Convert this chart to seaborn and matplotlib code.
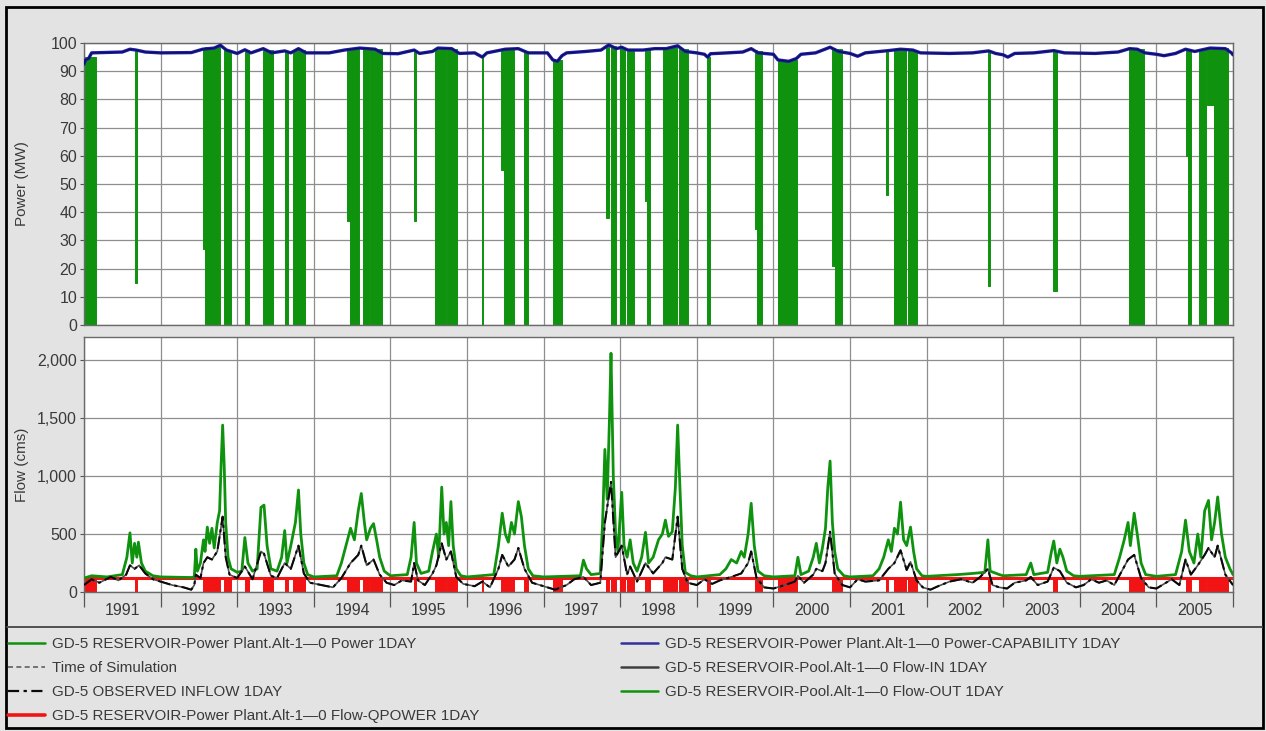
"""
GD-5 reservoir: power generation and flow, 1991-2005 (daily results, ResSim style plot).
"""

import matplotlib
matplotlib.use("Agg")
import matplotlib.pyplot as plt
from matplotlib.lines import Line2D
from matplotlib.patches import Rectangle
from matplotlib.ticker import StrMethodFormatter
import seaborn as sns

# ---------------------------------------------------------------- data
years = list(range(1991, 2006))
year_labels = [str(y) for y in years]
year_starts = list(range(1991, 2007))
year_mids = [y + 0.5 for y in years]

# power capability (MW)
cap_year = [1991.00, 1991.02, 1991.06, 1991.10, 1991.50, 1991.60, 1991.68, 1991.80, 1992.00, 1992.40,
            1992.55, 1992.70, 1992.78, 1992.86, 1993.00, 1993.10, 1993.18, 1993.34, 1993.45, 1993.62,
            1993.70, 1993.80, 1993.90, 1994.20, 1994.40, 1994.60, 1994.80, 1994.90, 1995.10, 1995.31,
            1995.38, 1995.55, 1995.62, 1995.80, 1995.90, 1996.10, 1996.20, 1996.26, 1996.50, 1996.67,
            1996.80, 1997.05, 1997.12, 1997.18, 1997.24, 1997.30, 1997.55, 1997.75, 1997.85, 1997.95,
            1998.02, 1998.10, 1998.30, 1998.45, 1998.60, 1998.75, 1998.85, 1999.00, 1999.10, 1999.14,
            1999.18, 1999.40, 1999.60, 1999.71, 1999.80, 2000.00, 2000.06, 2000.20, 2000.30, 2000.36,
            2000.55, 2000.74, 2000.85, 2001.00, 2001.10, 2001.20, 2001.50, 2001.66, 2001.82, 2001.92,
            2002.30, 2002.60, 2002.81, 2002.90, 2003.00, 2003.06, 2003.15, 2003.40, 2003.66, 2003.80,
            2004.20, 2004.50, 2004.65, 2004.75, 2004.85, 2005.00, 2005.10, 2005.25, 2005.38, 2005.50,
            2005.70, 2005.90, 2005.98, 2006.00]
cap_mw = [92.5, 94.0, 94.5, 96.5, 96.8, 97.8, 97.5, 96.8, 96.5, 96.6,
          97.8, 98.2, 99.2, 97.5, 96.3, 97.6, 96.5, 98.0, 96.5, 97.2,
          96.5, 98.0, 96.5, 96.5, 97.5, 98.2, 97.8, 96.3, 96.2, 97.5,
          96.3, 97.0, 98.2, 98.0, 96.3, 96.5, 95.0, 96.5, 97.8, 98.0,
          96.5, 96.5, 94.0, 93.5, 95.5, 96.5, 97.0, 97.5, 99.3, 98.0,
          98.5, 97.5, 97.5, 98.0, 98.0, 99.0, 97.0, 96.5, 96.0, 95.0,
          96.2, 96.5, 96.8, 98.0, 96.5, 96.0, 94.0, 93.5, 94.5, 96.0,
          96.5, 98.5, 97.0, 96.3, 95.3, 96.5, 97.3, 97.8, 97.5, 96.5,
          96.3, 96.5, 97.2, 96.3, 95.8, 95.0, 96.3, 96.5, 97.3, 96.5,
          96.3, 96.8, 98.0, 97.8, 96.5, 96.0, 95.5, 96.3, 97.8, 97.0,
          98.2, 98.0, 96.5, 95.8]

# periods where the units cycle down (generation swings between top and min)
drop_start = [1991.01, 1991.672, 1992.55, 1992.58, 1992.83, 1993.10, 1993.34, 1993.62, 1993.73, 1994.43,
              1994.47, 1994.64, 1994.73, 1995.31, 1995.58, 1995.74, 1996.19, 1996.44, 1996.48, 1996.74,
              1997.12, 1997.81, 1997.88, 1998.00, 1998.09, 1998.32, 1998.35, 1998.56, 1998.77, 1999.13,
              1999.76, 1999.79, 2000.06, 2000.77, 2000.80, 2001.47, 2001.57, 2001.76, 2002.80, 2003.65,
              2004.64, 2005.39, 2005.41, 2005.56, 2005.66, 2005.75]
drop_end = [1991.16, 1991.688, 1992.58, 1992.78, 1992.92, 1993.15, 1993.47, 1993.66, 1993.89, 1994.47,
            1994.59, 1994.72, 1994.89, 1995.33, 1995.73, 1995.87, 1996.21, 1996.48, 1996.61, 1996.80,
            1997.24, 1997.85, 1997.94, 1998.06, 1998.18, 1998.34, 1998.39, 1998.74, 1998.89, 1999.17,
            1999.79, 1999.85, 2000.31, 2000.80, 2000.90, 2001.50, 2001.73, 2001.87, 2002.83, 2003.70,
            2004.84, 2005.41, 2005.45, 2005.65, 2005.75, 2005.93]
drop_min_mw = [0, 15, 27, 0, 0, 0, 0, 0, 0, 37,
               0, 0, 0, 37, 0, 0, 0, 55, 0, 0,
               0, 38, 0, 0, 0, 44, 0, 0, 0, 0,
               34, 0, 0, 21, 0, 46, 0, 0, 14, 12,
               0, 60, 0, 0, 78, 0]
drop_top_mw = [95.0, 97.5, 97.8, 98.5, 97.5, 97.5, 97.5, 97.0, 97.5, 97.7,
               98.0, 98.2, 97.8, 97.5, 98.0, 98.0, 95.5, 97.5, 97.8, 97.0,
               93.8, 98.5, 98.8, 98.3, 97.6, 97.6, 97.8, 98.5, 98.0, 95.2,
               97.5, 97.0, 93.8, 98.2, 97.8, 97.2, 97.7, 97.2, 97.0, 97.2,
               97.8, 97.7, 97.6, 97.5, 98.1, 98.1]

# power plant release (cms)
qpower_full = 120
qpower_year = [1991.0, 2006.0]
qpower_cms = [qpower_full, qpower_full]

# pool outflow (cms)
out_year = [1991.00, 1991.10, 1991.30, 1991.50, 1991.56, 1991.60, 1991.63, 1991.66, 1991.69, 1991.71,
            1991.75, 1991.80, 1991.90, 1992.00, 1992.40, 1992.44, 1992.46, 1992.48, 1992.52, 1992.56,
            1992.58, 1992.61, 1992.64, 1992.67, 1992.70, 1992.74, 1992.77, 1992.79, 1992.81, 1992.83,
            1992.85, 1992.88, 1992.92, 1993.00, 1993.06, 1993.10, 1993.14, 1993.20, 1993.26, 1993.31,
            1993.35, 1993.39, 1993.44, 1993.52, 1993.58, 1993.62, 1993.65, 1993.70, 1993.76, 1993.80,
            1993.83, 1993.87, 1993.92, 1994.00, 1994.30, 1994.36, 1994.42, 1994.48, 1994.53, 1994.58,
            1994.62, 1994.66, 1994.69, 1994.74, 1994.78, 1994.82, 1994.86, 1994.92, 1995.00, 1995.22,
            1995.27, 1995.31, 1995.34, 1995.40, 1995.50, 1995.55, 1995.60, 1995.63, 1995.67, 1995.70,
            1995.73, 1995.76, 1995.79, 1995.82, 1995.86, 1995.92, 1996.00, 1996.35, 1996.41, 1996.46,
            1996.50, 1996.54, 1996.58, 1996.62, 1996.67, 1996.71, 1996.75, 1996.80, 1996.86, 1997.00,
            1997.48, 1997.52, 1997.56, 1997.62, 1997.74, 1997.77, 1997.80, 1997.83, 1997.86, 1997.88,
            1997.91, 1997.94, 1997.97, 1998.02, 1998.05, 1998.09, 1998.13, 1998.17, 1998.22, 1998.28,
            1998.33, 1998.37, 1998.43, 1998.50, 1998.55, 1998.59, 1998.63, 1998.68, 1998.72, 1998.75,
            1998.78, 1998.81, 1998.85, 1998.92, 1999.00, 1999.30, 1999.38, 1999.45, 1999.52, 1999.58,
            1999.62, 1999.67, 1999.71, 1999.75, 1999.80, 1999.88, 2000.00, 2000.28, 2000.32, 2000.36,
            2000.46, 2000.52, 2000.56, 2000.60, 2000.64, 2000.68, 2000.71, 2000.74, 2000.77, 2000.80,
            2000.84, 2000.92, 2001.00, 2001.30, 2001.38, 2001.44, 2001.50, 2001.54, 2001.58, 2001.62,
            2001.66, 2001.70, 2001.74, 2001.79, 2001.83, 2001.87, 2001.94, 2002.00, 2002.40, 2002.60,
            2002.76, 2002.80, 2002.83, 2002.95, 2003.00, 2003.30, 2003.36, 2003.40, 2003.58, 2003.63,
            2003.66, 2003.70, 2003.74, 2003.78, 2003.83, 2003.92, 2004.00, 2004.45, 2004.52, 2004.58,
            2004.63, 2004.66, 2004.71, 2004.75, 2004.80, 2004.86, 2004.95, 2005.00, 2005.25, 2005.33,
            2005.38, 2005.43, 2005.49, 2005.54, 2005.58, 2005.63, 2005.68, 2005.72, 2005.76, 2005.80,
            2005.85, 2005.90, 2005.96, 2006.00]
out_cms = [120, 140, 130, 150, 300, 510, 250, 420, 300, 430,
           250, 180, 140, 130, 125, 130, 370, 180, 250, 450,
           350, 560, 420, 550, 380, 600, 700, 1100, 1440, 1100,
           600, 300, 200, 170, 180, 470, 250, 180, 200, 730,
           750, 400, 200, 180, 300, 530, 250, 400, 600, 880,
           500, 250, 150, 130, 140, 250, 400, 550, 450, 700,
           850, 600, 450, 550, 590, 450, 300, 180, 140, 150,
           300, 600, 250, 160, 180, 350, 500, 300, 905, 500,
           600, 400, 780, 400, 200, 140, 130, 150, 400, 680,
           500, 430, 600, 500, 780, 650, 400, 200, 140, 130,
           140, 275, 200, 150, 160, 600, 1230, 800, 1500, 2060,
           1000, 500, 350, 860, 400, 300, 450, 250, 180, 300,
           515, 250, 300, 450, 500, 620, 480, 520, 900, 1440,
           900, 400, 170, 140, 130, 150, 200, 280, 250, 350,
           300, 500, 765, 400, 180, 140, 130, 140, 300, 150,
           180, 300, 420, 250, 380, 550, 900, 1130, 600, 350,
           200, 140, 130, 140, 200, 300, 450, 350, 550, 500,
           775, 450, 400, 560, 350, 200, 140, 135, 150, 160,
           170, 450, 180, 150, 140, 150, 250, 150, 170, 350,
           440, 250, 370, 300, 180, 140, 135, 150, 300, 450,
           600, 400, 680, 500, 250, 150, 140, 135, 150, 350,
           620, 350, 250, 500, 300, 700, 790, 450, 600, 820,
           500, 300, 200, 150]

# pool inflow (cms), same record as observed inflow
in_year = [1991.00, 1991.10, 1991.20, 1991.35, 1991.45, 1991.55, 1991.60, 1991.66, 1991.72, 1991.80,
           1991.90, 1992.00, 1992.15, 1992.30, 1992.40, 1992.44, 1992.46, 1992.52, 1992.56, 1992.61,
           1992.67, 1992.74, 1992.81, 1992.85, 1992.90, 1993.00, 1993.10, 1993.20, 1993.31, 1993.35,
           1993.44, 1993.52, 1993.62, 1993.70, 1993.80, 1993.87, 1993.95, 1994.10, 1994.25, 1994.36,
           1994.48, 1994.58, 1994.62, 1994.69, 1994.78, 1994.86, 1994.95, 1995.05, 1995.15, 1995.27,
           1995.31, 1995.36, 1995.45, 1995.55, 1995.60, 1995.67, 1995.73, 1995.79, 1995.86, 1995.95,
           1996.10, 1996.20, 1996.30, 1996.41, 1996.46, 1996.54, 1996.62, 1996.67, 1996.75, 1996.85,
           1997.00, 1997.15, 1997.30, 1997.40, 1997.52, 1997.62, 1997.74, 1997.80, 1997.88, 1997.94,
           1998.02, 1998.09, 1998.13, 1998.22, 1998.33, 1998.43, 1998.55, 1998.59, 1998.68, 1998.75,
           1998.81, 1998.88, 1999.00, 1999.10, 1999.20, 1999.30, 1999.45, 1999.58, 1999.67, 1999.71,
           1999.78, 1999.88, 2000.00, 2000.15, 2000.28, 2000.32, 2000.40, 2000.52, 2000.56, 2000.64,
           2000.68, 2000.74, 2000.80, 2000.90, 2001.00, 2001.10, 2001.20, 2001.38, 2001.50, 2001.58,
           2001.66, 2001.74, 2001.79, 2001.87, 2001.95, 2002.05, 2002.15, 2002.30, 2002.45, 2002.60,
           2002.70, 2002.80, 2002.86, 2002.95, 2003.05, 2003.15, 2003.30, 2003.36, 2003.45, 2003.58,
           2003.66, 2003.74, 2003.83, 2003.95, 2004.05, 2004.15, 2004.25, 2004.35, 2004.45, 2004.58,
           2004.63, 2004.71, 2004.80, 2004.90, 2005.00, 2005.10, 2005.20, 2005.30, 2005.38, 2005.45,
           2005.54, 2005.63, 2005.68, 2005.76, 2005.80, 2005.90, 2006.00]
in_cms = [60, 110, 80, 130, 100, 150, 230, 200, 230, 160,
          110, 90, 60, 40, 20, 60, 150, 120, 250, 300,
          280, 350, 650, 300, 150, 120, 220, 110, 350, 330,
          140, 120, 250, 200, 400, 160, 80, 60, 40, 120,
          250, 320, 400, 230, 280, 150, 80, 60, 100, 90,
          250, 100, 60, 160, 230, 420, 280, 350, 130, 70,
          50, 90, 40, 200, 320, 220, 280, 380, 200, 80,
          50, 20, 60, 110, 130, 60, 80, 600, 950, 300,
          400, 150, 220, 90, 250, 160, 250, 300, 280, 650,
          200, 80, 60, 110, 70, 100, 130, 160, 250, 350,
          120, 40, 30, 60, 90, 140, 80, 150, 200, 180,
          250, 520, 160, 60, 40, 110, 90, 100, 200, 250,
          360, 190, 260, 100, 40, 20, 50, 90, 110, 80,
          130, 200, 60, 40, 30, 80, 100, 130, 60, 90,
          210, 180, 80, 40, 60, 110, 80, 100, 60, 220,
          280, 320, 120, 40, 30, 70, 110, 60, 280, 150,
          230, 320, 380, 300, 400, 150, 60]

# ---------------------------------------------------------------- style
GREEN = "#0f930f"
BLUE = "#1c1cb4"
RED = "#f21414"
TXT = "#3a3a3a"
BG = "#e3e3e3"

sns.set_theme(style="whitegrid")
plt.rcParams["font.family"] = ["Liberation Sans", "DejaVu Sans"]

W, H = 1266, 731


def px_box(x0, y0, x1, y1):
    return [x0 / W, 1 - y1 / H, (x1 - x0) / W, (y1 - y0) / H]


def style_axes(ax):
    ax.set_facecolor("white")
    ax.set_axisbelow(True)
    ax.grid(True, which="major", color="#8e8e8e", lw=0.9)
    ax.grid(False, which="minor")
    for sp in ax.spines.values():
        sp.set_color("#6a6a6a")
        sp.set_linewidth(1.0)
    ax.set_xlim(1991, 2006)
    ax.set_xticks(year_starts)
    ax.set_xlabel("")
    ax.set_ylabel("")
    ax.tick_params(axis="y", which="major", length=3, width=0.8, color="#555555",
                   pad=2, labelsize=11.5, labelcolor=TXT, left=True)


fig = plt.figure(figsize=(12.66, 7.31), dpi=100, facecolor=BG)

# ---------------------------------------------------------------- power panel
ax_p = fig.add_axes(px_box(84, 43, 1233, 325))
for s, e, lo, hi in zip(drop_start, drop_end, drop_min_mw, drop_top_mw):
    ax_p.fill_between([s, e], lo, hi, color=GREEN, edgecolor=GREEN, lw=0.7, zorder=2)
sns.lineplot(x=cap_year, y=cap_mw, ax=ax_p, color=BLUE, lw=2.4,
             estimator=None, sort=False, zorder=3)
sns.lineplot(x=cap_year, y=cap_mw, ax=ax_p, color="#101040", lw=0.8,
             estimator=None, sort=False, zorder=4)
style_axes(ax_p)
ax_p.set_ylim(0, 100)
ax_p.set_yticks(range(0, 101, 10))
ax_p.tick_params(axis="x", which="both", length=0, labelbottom=False)

# ---------------------------------------------------------------- flow panel
ax_f = fig.add_axes(px_box(84, 337, 1233, 592))
for s, e in zip(drop_start, drop_end):
    ax_f.fill_between([s, e], 0, qpower_full, color=RED, edgecolor=RED, lw=0.7, zorder=2)
sns.lineplot(x=qpower_year, y=qpower_cms, ax=ax_f, color=RED, lw=2.2,
             estimator=None, sort=False, zorder=2)
sns.lineplot(x=out_year, y=out_cms, ax=ax_f, color=GREEN, lw=2.0,
             estimator=None, sort=False, zorder=3)
sns.lineplot(x=in_year, y=in_cms, ax=ax_f, color="#505050", lw=1.2,
             estimator=None, sort=False, zorder=4)
ln = sns.lineplot(x=in_year, y=in_cms, ax=ax_f, color="#0a0a0a", lw=1.5,
                  estimator=None, sort=False, zorder=5).lines[-1]
ln.set_dashes([6, 2, 1.5, 2])
style_axes(ax_f)
ax_f.set_ylim(0, 2200)
ax_f.set_yticks([0, 500, 1000, 1500, 2000])
ax_f.yaxis.set_major_formatter(StrMethodFormatter("{x:,.0f}"))
ax_f.set_xticks(year_mids, minor=True)
ax_f.set_xticklabels([""] * len(year_starts))
ax_f.set_xticklabels(year_labels, minor=True)
ax_f.tick_params(axis="x", which="major", length=11, width=0.9, color="#555555", bottom=True)
ax_f.tick_params(axis="x", which="minor", length=0, pad=8, labelsize=11.5, labelcolor=TXT)

fig.text(22 / W, 1 - 184 / H, "Power (MW)", rotation=90, ha="center", va="center",
         fontsize=11, color=TXT)
fig.text(22 / W, 1 - 465 / H, "Flow (cms)", rotation=90, ha="center", va="center",
         fontsize=11, color=TXT)

# ---------------------------------------------------------------- legend
left_items = [
    Line2D([], [], color=GREEN, lw=1.8),
    Line2D([], [], color="#606060", lw=1.2, ls=(0, (3, 2))),
    Line2D([], [], color="#0a0a0a", lw=1.6, ls=(0, (5, 2, 1.5, 2))),
    Line2D([], [], color=RED, lw=2.6),
]
left_labels = [
    "GD-5 RESERVOIR-Power Plant.Alt-1\u20140 Power 1DAY",
    "Time of Simulation",
    "GD-5 OBSERVED INFLOW 1DAY",
    "GD-5 RESERVOIR-Power Plant.Alt-1\u20140 Flow-QPOWER 1DAY",
]
right_items = [
    Line2D([], [], color="#3030a0", lw=1.8),
    Line2D([], [], color="#404040", lw=1.8),
    Line2D([], [], color=GREEN, lw=1.8),
]
right_labels = [
    "GD-5 RESERVOIR-Power Plant.Alt-1\u20140 Power-CAPABILITY 1DAY",
    "GD-5 RESERVOIR-Pool.Alt-1\u20140 Flow-IN 1DAY",
    "GD-5 RESERVOIR-Pool.Alt-1\u20140 Flow-OUT 1DAY",
]
leg_kw = dict(frameon=False, fontsize=10.9, labelcolor=TXT, handlelength=2.45,
              handletextpad=0.46, labelspacing=0.66, borderpad=0, borderaxespad=0,
              loc="upper left")
fig.legend(left_items, left_labels, bbox_to_anchor=(8 / W, 1 - 637 / H), **leg_kw)
fig.legend(right_items, right_labels, bbox_to_anchor=(621 / W, 1 - 637 / H), **leg_kw)

# separator above the legend and outer frame
fig.add_artist(Line2D([7 / W, 1262 / W], [1 - 627 / H, 1 - 627 / H], color="#505050", lw=1.4))
fig.add_artist(Rectangle((6 / W, 1 - 728 / H), 1257 / W, 721 / H, fill=False,
                         edgecolor="black", lw=2.0))

fig.savefig("out.png", dpi=100, facecolor=BG)
